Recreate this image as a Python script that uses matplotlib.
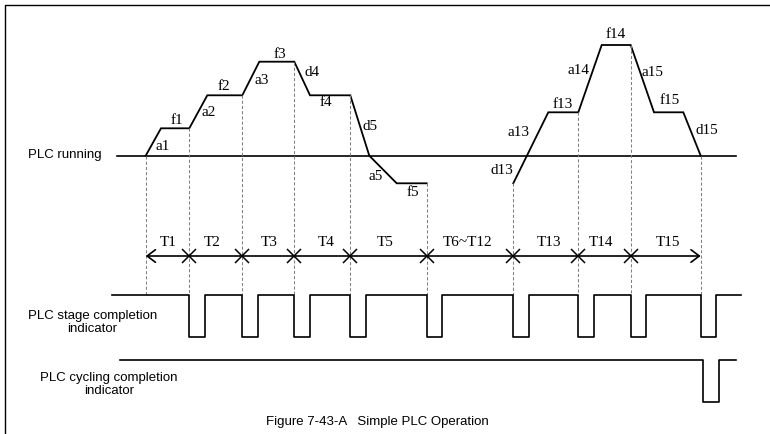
import numpy as np
import matplotlib
matplotlib.use("Agg")
import matplotlib.pyplot as plt

# ---------------- data (diagram units = pixels of a 770x434 canvas) ----------------
baseline_y = 155.7          # "PLC running" zero-frequency line
# stage boundary times
boundaries = [145.7, 189.3, 242.3, 294.3, 350.3, 426.7, 513.3, 578.3, 630.7, 700.7]
stage_labels = ["T1", "T2", "T3", "T4", "T5", "T6~T12", "T13", "T14", "T15"]
stage_label_x = [168, 212, 269, 326, 385, 468, 549, 601, 668]

# frequency waveform: time and level above baseline
wave1_t = [145.7, 161.0, 189.3, 207.3, 242.3, 259.3, 294.3, 310.0, 350.3, 369.3, 396.7, 426.7]
wave1_f = [0.0, 27.4, 27.4, 60.4, 60.4, 94.0, 94.0, 60.4, 60.4, 0.0, -27.6, -27.6]
wave2_t = [513.3, 548.3, 578.3, 601.7, 630.7, 654.0, 683.3, 700.7]
wave2_f = [-27.6, 43.4, 43.4, 110.7, 110.7, 43.4, 43.4, 0.0]

# waveform segment labels
seg_names = ["a1", "f1", "a2", "f2", "a3", "f3", "d4", "f4", "d5", "a5", "f5",
             "d13", "a13", "f13", "a14", "f14", "a15", "f15", "d15"]
seg_x = [163, 177, 209, 224, 262, 280, 312, 326, 370, 376, 413,
         502, 519, 563, 578, 616, 653, 670, 707]
seg_y = [146, 120, 113, 87, 80, 54, 73, 103, 126, 176, 193,
         170, 133, 104, 71, 34, 72, 101, 130]

# indicators
stage_high, stage_low = 295.0, 336.7
stage_start, stage_end = 111.7, 740.7
pulse_width = 15.5
cycle_high, cycle_low = 360.0, 401.7
cycle_start, cycle_end = 120.0, 736.0
cycle_pulse_at = 703.3

arrow_y = 256.0

# ---------------- drawing ----------------
fig = plt.figure(figsize=(7.7, 4.34), dpi=100)
ax = fig.add_axes([0, 0, 1, 1])
ax.set_xlim(0, 770)
ax.set_ylim(434, 0)
ax.axis("off")

serif = "Liberation Serif"
sans = "Liberation Sans"
lw = 1.3
serif_size = 11

# frame
ax.plot([5, 5, 770], [434, 5, 5], color="black", lw=1.0)

# baseline
ax.plot([117, 736], [baseline_y, baseline_y], color="black", lw=1.2)

# waveform
for t, f in ((wave1_t, wave1_f), (wave2_t, wave2_f)):
    ax.plot(t, baseline_y - np.array(f), color="black", lw=lw, solid_joinstyle="miter")

# dashed boundary lines
all_t = np.array(wave1_t + wave2_t)
all_f = np.array(wave1_f + wave2_f)
for b in boundaries:
    top = baseline_y - np.interp(b, all_t, all_f)
    ax.plot([b, b], [top, stage_high], color="#808080", lw=0.75,
            linestyle=(0, (3, 2)))

# segment labels
for name, x, y in zip(seg_names, seg_x, seg_y):
    ax.text(x, y, name, family=serif, fontsize=serif_size, ha="center", va="center")

# time arrow with X marks
ax.annotate("", xy=(boundaries[-1], arrow_y), xytext=(boundaries[0], arrow_y),
            arrowprops=dict(arrowstyle="<->,head_length=0.6,head_width=0.45",
                            lw=1.2, color="black", shrinkA=0, shrinkB=0))
ax.plot(boundaries[1:-1], [arrow_y] * (len(boundaries) - 2), linestyle="none",
        marker="x", markersize=9.5, mew=1.1, color="black")
for lab, x in zip(stage_labels, stage_label_x):
    ax.text(x, 242, lab, family=serif, fontsize=serif_size, ha="center", va="center")

# stage completion indicator
sx, sy = [stage_start], [stage_high]
for b in boundaries[1:]:
    sx += [b, b, b + pulse_width, b + pulse_width]
    sy += [stage_high, stage_low, stage_low, stage_high]
sx.append(stage_end)
sy.append(stage_high)
ax.plot(sx, sy, color="black", lw=1.2)

# cycling completion indicator
cx = [cycle_start, cycle_pulse_at, cycle_pulse_at, cycle_pulse_at + 16,
      cycle_pulse_at + 16, cycle_end]
cy = [cycle_high, cycle_high, cycle_low, cycle_low, cycle_high, cycle_high]
ax.plot(cx, cy, color="black", lw=1.2)

# left labels
ax.text(28, 155, "PLC running", family=sans, fontsize=9.5, ha="left", va="center")
ax.text(92.5, 322.5, "PLC stage completion\nindicator", family=sans, fontsize=9.5,
        ha="center", va="center", linespacing=1.15)
ax.text(109, 384.5, "PLC cycling completion\nindicator", family=sans, fontsize=9.5,
        ha="center", va="center", linespacing=1.15)

# caption
ax.text(377, 421.5, "Figure 7-43-A   Simple PLC Operation", family=sans,
        fontsize=9.5, ha="center", va="center")

fig.savefig("out.png", dpi=100)
